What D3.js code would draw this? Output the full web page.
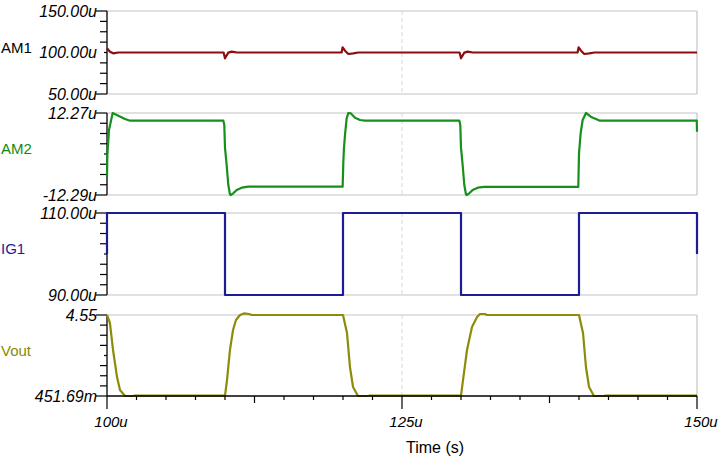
<!DOCTYPE html>
<html><head><meta charset="utf-8">
<script src="https://cdn.jsdelivr.net/npm/d3@7"></script>
<style>body{margin:0;background:#fff}svg{display:block}</style>
</head><body><svg id="c" width="721" height="457"></svg>
<script>
// ---- data (time in µs) ----
const seriesNames = ["AM1", "AM2", "IG1", "Vout"];
const xTickValues = [100, 125, 150];
const xTickLabels = ["100u", "125u", "150u"];

const am1Domain = [50, 150];
const am1TickValues = [150, 100, 50];
const am1TickLabels = ["150.00u", "100.00u", "50.00u"];
const am1 = [[100,105],[100.25,101],[100.53,99],[100.96,100],[109.88,100],[110,93],[110.28,99.8],[110.57,101],[111,100],
  [119.88,100],[119.97,106.3],[120.17,102.2],[120.45,98.2],[120.87,99],[121.3,100],
  [129.88,100],[130,93],[130.28,99.8],[130.57,101],[131,100],
  [139.88,100],[139.97,106.3],[140.17,102.2],[140.45,98.2],[140.87,99],[141.3,100],[150,100]];

const am2Domain = [-12.29, 12.27];
const am2TickValues = [12.27, -12.29];
const am2TickLabels = ["12.27u", "-12.29u"];
const am2 = [[100,-6.8],[100.03,-0.3],[100.17,7.2],[100.48,12.27],[100.96,11.46],[101.53,10.47],[101.95,9.96],
  [109.86,9.96],[109.94,8.68],[110,1.8],[110.14,-3.3],[110.28,-9.3],[110.42,-12.08],[110.48,-12.29],[110.7,-11.78],[110.99,-10.79],[111.42,-10.1],[111.97,-9.8],
  [119.97,-9.8],[120.03,-2.3],[120.08,1.7],[120.17,5.7],[120.31,10.68],[120.45,12.27],[120.65,12.18],[121.02,10.86],[121.44,10.17],[121.86,9.96],
  [129.86,9.96],[129.94,8.68],[130,1.8],[130.14,-3.3],[130.28,-9.3],[130.42,-12.08],[130.48,-12.29],[130.7,-11.78],[130.99,-10.79],[131.42,-10.1],[131.97,-9.85],
  [139.94,-9.85],[140,0.2],[140.14,6.2],[140.31,10.17],[140.59,12.27],[141.08,10.98],[141.78,9.96],[149.98,9.96],[150,6.67]];

const ig1Domain = [90, 110];
const ig1TickValues = [110, 90];
const ig1TickLabels = ["110.00u", "90.00u"];
const ig1 = [[100,100],[100,110],[110,110],[110,90],[120,90],[120,110],[130,110],[130,90],[140,90],[140,110],[150,110],[150,100]];

const voutDomain = [0.45169, 4.55];
const voutTickValues = [4.55, 0.45169];
const voutTickLabels = ["4.55", "451.69m"];
const vout = [[100,4.55],[100.25,4.145],[100.51,2.78],[100.85,1.41],[101.1,0.755],[101.53,0.452],[102.2,0.452],[102.29,0.467],
  [110,0.467],[110.17,1.26],[110.42,2.78],[110.68,3.79],[110.93,4.3],[111.27,4.55],[111.61,4.63],[112.03,4.6],[112.29,4.55],
  [120,4.55],[120.34,3.64],[120.59,1.92],[120.85,0.907],[121.27,0.452],[122.12,0.452],[122.2,0.467],
  [130,0.467],[130.17,1.26],[130.51,2.78],[130.93,3.94],[131.36,4.45],[131.61,4.6],[132.03,4.6],[132.2,4.55],
  [140,4.55],[140.34,3.64],[140.59,1.92],[140.85,0.907],[141.27,0.452],[142.12,0.452],[142.2,0.467],[150,0.467]];

// ---- layout / style ----
const FONT = "'Liberation Sans', Arial, sans-serif";
const svg = d3.select("#c");
const x = d3.scaleLinear().domain([100, 150]).range([107, 697]);

const panels = [
  {name: seriesNames[0], data: am1, domain: am1Domain, tv: am1TickValues, tl: am1TickLabels, top: 11, bottom: 94, color: "#8b0d0d", labelColor: "#000"},
  {name: seriesNames[1], data: am2, domain: am2Domain, tv: am2TickValues, tl: am2TickLabels, top: 113, bottom: 195, color: "#16901a", labelColor: "#128a12"},
  {name: seriesNames[2], data: ig1, domain: ig1Domain, tv: ig1TickValues, tl: ig1TickLabels, top: 213, bottom: 295, color: "#1c1c94", labelColor: "#1c1c9a"},
  {name: seriesNames[3], data: vout, domain: voutDomain, tv: voutTickValues, tl: voutTickLabels, top: 315, bottom: 396, color: "#8c8c08", labelColor: "#8a8a00"}
];

const x0 = x.range()[0], x1 = x.range()[1];

panels.forEach((p, i) => {
  const y = d3.scaleLinear().domain(p.domain).range([p.bottom, p.top]);
  const g = svg.append("g");
  // frame lines
  g.append("line").attr("x1", x0).attr("x2", x1).attr("y1", p.top).attr("y2", p.top).attr("stroke", "#c4c4c4").attr("stroke-width", 1.2);
  if (i < panels.length - 1)
    g.append("line").attr("x1", x0).attr("x2", x1).attr("y1", p.bottom).attr("y2", p.bottom).attr("stroke", "#c4c4c4").attr("stroke-width", 1.2);
  g.append("line").attr("x1", x1).attr("x2", x1).attr("y1", p.top).attr("y2", p.bottom).attr("stroke", "#c4c4c4").attr("stroke-width", 1.2);
  // dashed grid at 125u
  g.append("line").attr("x1", x(125)).attr("x2", x(125)).attr("y1", p.top).attr("y2", p.bottom)
    .attr("stroke", "#d8d8d8").attr("stroke-dasharray", "4,3").attr("stroke-width", 1);
  // left axis line
  g.append("line").attr("x1", x0).attr("x2", x0).attr("y1", p.top).attr("y2", p.bottom).attr("stroke", "#000").attr("stroke-width", 1.3);
  // ticks: 8 intervals
  const d0 = p.domain[0], d1 = p.domain[1];
  for (let k = 0; k <= 8; k++) {
    const v = d0 + (d1 - d0) * k / 8;
    const len = (k === 0 || k === 8) ? 11 : (k === 4 ? 3 : 7);
    g.append("line").attr("x1", x0 - len).attr("x2", x0).attr("y1", y(v)).attr("y2", y(v)).attr("stroke", "#000").attr("stroke-width", 1.2);
  }
  // tick labels
  p.tv.forEach((v, j) => {
    g.append("text").attr("x", 97).attr("y", y(v)).attr("dy", "0.35em").attr("text-anchor", "end")
      .attr("font-family", FONT).attr("font-size", 16).attr("font-style", "italic").attr("fill", "#000").text(p.tl[j]);
  });
  // series label
  g.append("text").attr("x", 1).attr("y", (p.top + p.bottom) / 2 - 5).attr("dy", "0.35em")
    .attr("font-family", FONT).attr("font-size", 15).attr("fill", p.labelColor).text(p.name);
  // line
  const line = d3.line().x(d => x(d[0])).y(d => y(d[1]));
  g.append("path").datum(p.data).attr("d", line).attr("fill", "none").attr("stroke", p.color)
    .attr("stroke-width", 2.2).attr("stroke-linejoin", "round");
});

// bottom time axis
const axY = panels[3].bottom;
const ax = svg.append("g");
ax.append("line").attr("x1", x0).attr("x2", x1).attr("y1", axY).attr("y2", axY).attr("stroke", "#000").attr("stroke-width", 1.3);
for (let k = 0; k <= 20; k++) {
  const t = 100 + k * 2.5;
  const len = (k % 10 === 0) ? 13 : (k % 5 === 0 ? 7 : 4);
  ax.append("line").attr("x1", x(t)).attr("x2", x(t)).attr("y1", axY).attr("y2", axY + len).attr("stroke", "#000").attr("stroke-width", 1.2);
}
xTickValues.forEach((t, j) => {
  ax.append("text").attr("x", x(t) + 4).attr("y", 422).attr("dy", "0.35em").attr("text-anchor", "middle")
    .attr("font-family", FONT).attr("font-size", 15).attr("font-style", "italic").attr("fill", "#000").text(xTickLabels[j]);
});
ax.append("text").attr("x", 435).attr("y", 447).attr("dy", "0.35em").attr("text-anchor", "middle")
  .attr("font-family", FONT).attr("font-size", 16).attr("fill", "#000").text("Time (s)");
</script></body></html>
